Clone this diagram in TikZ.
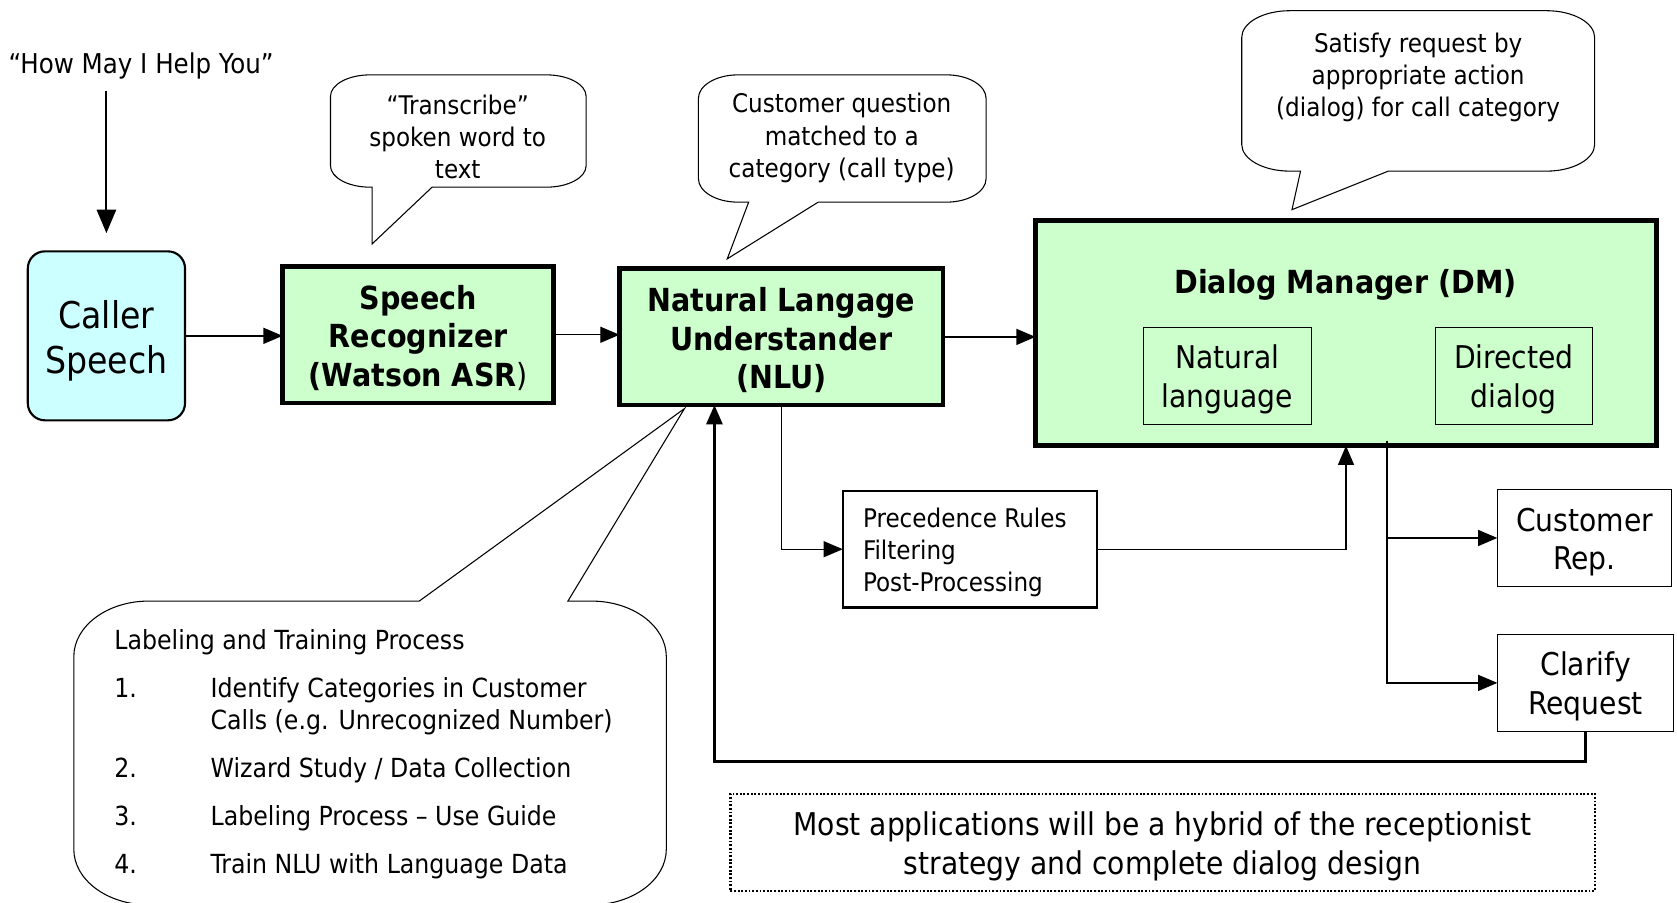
\documentclass[tikz,border=0pt]{standalone}
\usepackage{fontspec}
\setmainfont{DejaVu Sans Condensed}
\usetikzlibrary{arrows.meta}
\definecolor{boxgreen}{HTML}{CCFFCC}
\definecolor{callercyan}{HTML}{CCFFFF}
\newcommand\fs[2]{\fontsize{#1}{#2}\selectfont}

% rounded-rectangle speech bubble with its pointer on the bottom edge
% #1,#2 top-left  #3,#4 bottom-right  #5,#6 corner radii  #7,#8 pointer base  #9 pointer tip
\newcommand\wedgecallout[9]{%
  \draw[callout] ({#1+#5},#2) -- ({#3-#5},#2)
    .. controls ({#3-0.448*#5},#2) and (#3,{#2+0.448*#6}) .. (#3,{#2+#6})
    -- (#3,{#4-#6})
    .. controls (#3,{#4-0.448*#6}) and ({#3-0.448*#5},#4) .. ({#3-#5},#4)
    -- (#8,#4) -- #9 -- (#7,#4) -- ({#1+#5},#4)
    .. controls ({#1+0.448*#5},#4) and (#1,{#4-0.448*#6}) .. (#1,{#4-#6})
    -- (#1,{#2+#6})
    .. controls (#1,{#2+0.448*#6}) and ({#1+0.448*#5},#2) .. ({#1+#5},#2) -- cycle;}

\tikzset{
  every node/.style={inner sep=0pt, outer sep=0pt},
  arr/.style={-{Triangle[length=18pt,width=15pt]}, line width=1.3pt},
  mainbox/.style={draw, line width=4.5pt, fill=boxgreen},
  boldlabel/.style={align=center, font=\bfseries\fs{29.7}{36}},
  subbox/.style={draw, line width=1pt, fill=boxgreen},
  outbox/.style={draw, line width=1pt, fill=white},
  biglabel/.style={align=center, font=\fs{29.3}{36}},
  callout/.style={draw, line width=1pt, fill=white, line join=miter},
  ctext/.style={align=center, font=\fs{24}{30}},
  ltext/.style={anchor=base west, font=\fs{24.6}{30}},
}

\begin{document}
\begin{tikzpicture}[x=1pt,y=-1pt]
\useasboundingbox (0,0) rectangle (1568,844);

% speech bubbles
\wedgecallout{309}{70}{548}{175}{37}{20}{348}{404}{(348,228)}
\wedgecallout{653}{70}{922}{189}{37}{22}{700}{765}{(680,242)}
\wedgecallout{1161}{10}{1491}{160}{45}{25}{1216}{1298}{(1208,196)}
\node[ctext] (t1) at (428,128) {“Transcribe”\\spoken word to\\text};
\node[ctext] (t2) at (787,129) {Customer question\\matched to a\\category (call type)};
\node[ctext] (t3) at (1326,72) {Satisfy request by\\appropriate action\\(dialog) for call category};

% training bubble, pointer on the top edge
\draw[callout] (139,562) -- (392,562) -- (640,382) -- (531,562) -- (553,562)
  .. controls (591.6,562) and (623,585.3) .. (623,614)
  -- (623,794)
  .. controls (623,822.7) and (591.6,846) .. (553,846)
  -- (139,846)
  .. controls (100.4,846) and (69,822.7) .. (69,794)
  -- (69,614)
  .. controls (69,585.3) and (100.4,562) .. (139,562) -- cycle;
\node[ltext] (lt) at (107,607) {Labeling and Training Process};
\node[ltext] (n1) at (107,652) {1.};
\node[ltext] (i1a) at (197,652) {Identify Categories in Customer};
\node[ltext] (i1b) at (197,682) {Calls (e.g. Unrecognized Number)};
\node[ltext] (n2) at (107,727) {2.};
\node[ltext] (i2) at (197,727) {Wizard Study / Data Collection};
\node[ltext] (n3) at (107,772) {3.};
\node[ltext] (i3) at (197,772) {Labeling Process – Use Guide};
\node[ltext] (n4) at (107,817) {4.};
\node[ltext] (i4) at (197,817) {Train NLU with Language Data};

% prompt
\node[anchor=base west, font=\fs{25.5}{30}] (hm) at (8,69) {“How May I Help You”};
\coordinate (hmtop) at (99.5,85);
\coordinate (hmtip) at (99.5,218);

% main pipeline
\node[draw, line width=2pt, rounded corners=16pt, fill=callercyan, minimum width=147pt,
      minimum height=158pt] (caller) at (99.5,314) {};
\node[align=center, font=\fs{34.5}{42}] (callerlabel) at (99.5,319) {Caller\\Speech};
\node[mainbox, minimum width=253.5pt, minimum height=127.5pt] (sr) at (391,313) {};
\node[boldlabel] (srlabel) at (391,316) {Speech\\Recognizer\\(Watson ASR{\mdseries )}};
\node[mainbox, minimum width=302.5pt, minimum height=127.5pt] (nlu) at (730.5,315) {};
\node[boldlabel] (nlulabel) at (730.5,318) {Natural Langage\\Understander\\(NLU)};
\node[mainbox, minimum width=580.5pt, minimum height=210.5pt] (dm) at (1258.5,311.5) {};
\node[boldlabel] (dmtitle) at (1258,266) {Dialog Manager (DM)};
\node[subbox, minimum width=157pt, minimum height=91pt] (nl) at (1147.5,351.5) {};
\node[biglabel] (nllabel) at (1147.5,354.5) {Natural\\language};
\node[subbox, minimum width=147pt, minimum height=91pt] (dd) at (1415.5,351.5) {};
\node[biglabel] (ddlabel) at (1415.5,354.5) {Directed\\dialog};

\node[draw, line width=2pt, fill=white, minimum width=238pt, minimum height=109pt] (prec) at (907,513.5) {};
\node[anchor=west, align=left, font=\fs{24}{30}] (preclabel) at (807,516.5)
      {Precedence Rules\\Filtering\\Post-Processing};
\node[outbox, minimum width=163pt, minimum height=90pt] (cr) at (1481.5,503) {};
\node[biglabel] (crlabel) at (1481.5,507) {Customer\\Rep.};
\node[outbox, minimum width=165pt, minimum height=91pt] (cl) at (1482.5,638.5) {};
\node[biglabel] (cllabel) at (1482.5,641.5) {Clarify\\Request};

\node[draw, line width=1.9pt, dash pattern=on 1.7pt off 1.7pt, minimum width=808pt, minimum height=91pt]
      (note) at (1087,787.5) {};
\node[biglabel] (notelabel) at (1087,791.5)
      {Most applications will be a hybrid of the receptionist\\strategy and complete dialog design};

% connectors
\draw[line width=2pt, -{Triangle[length=22pt,width=18pt]}] (hmtop) -- (hmtip);
\draw[arr] (caller.east) -- (caller.east -| sr.west);
\draw[arr] (sr.east) -- (sr.east -| nlu.west);
\draw[arr] (nlu.east) -- (nlu.east -| dm.west);
\draw[arr] (nlu.south) |- (prec.west);
\draw[arr] (prec.east) -| (dm.south);
\coordinate (split) at (1297,412);
\draw[arr] (split) |- (cr.west);
\draw[arr] (split) |- (cl.west);
\coordinate (fb) at (668,712);
\draw[arr, line width=2.5pt] (cl.south) |- (fb) -- (fb |- nlu.south);
\end{tikzpicture}
\end{document}
